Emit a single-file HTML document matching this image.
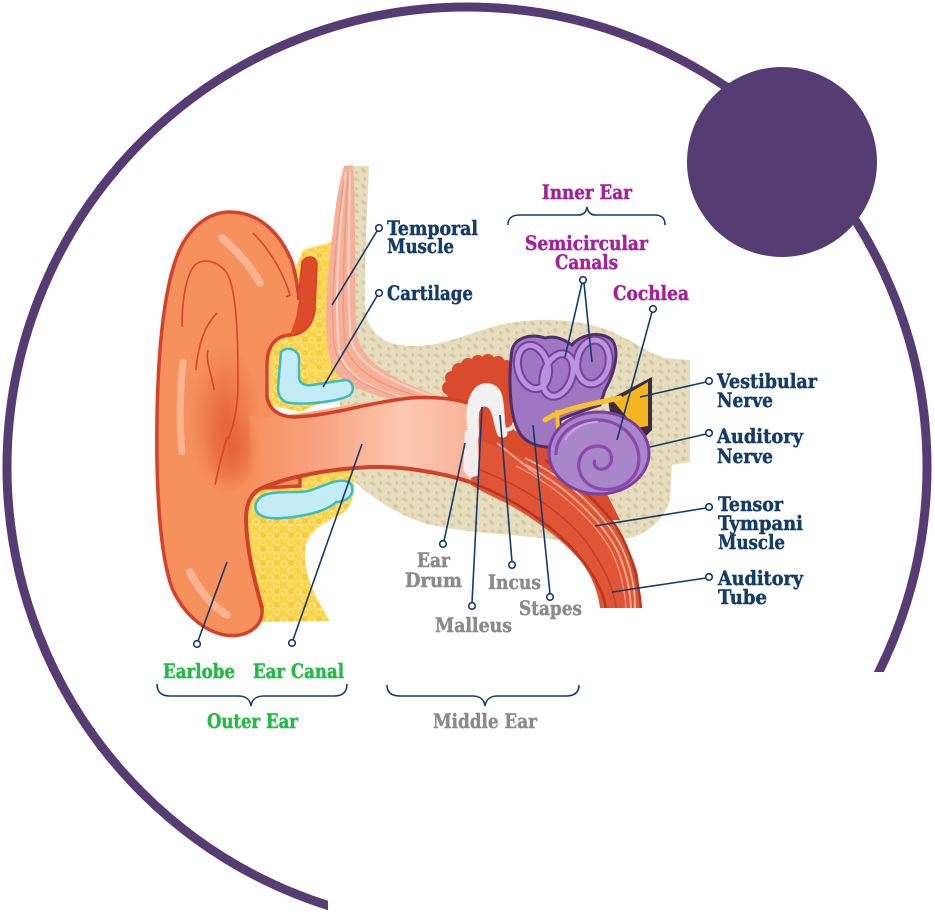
<!DOCTYPE html>
<html><head><meta charset="utf-8">
<style>
html,body{margin:0;padding:0;background:#fff;}
svg{display:block;}
text{font-family:"DejaVu Serif","Liberation Serif",serif;font-weight:bold;font-size:19.5px;stroke-width:0.45px;}
.nv{fill:#143c6b;stroke:#143c6b;} .mg{fill:#a3229a;stroke:#a3229a;} .gr{fill:#8b8b8b;stroke:#8b8b8b;} .gn{fill:#22bb45;stroke:#22bb45;}
.ld{stroke:#143c6b;stroke-width:1.6;fill:none;}
.dot{stroke:#143c6b;stroke-width:1.6;fill:#fff;}
</style></head>
<body>
<svg width="935" height="914" viewBox="0 0 935 914" xmlns="http://www.w3.org/2000/svg">
<defs>
<pattern id="bone" width="16" height="16" patternUnits="userSpaceOnUse">
<rect width="16" height="16" fill="#e6ddbf"/>
<path d="M1,3 q4,-3 6,1 q-2,4 -6,-1z M9,9 q5,-2 5,3 q-3,3 -5,-3z M3,11 q3,0 3,3 q-3,1 -3,-3z M12,1 q3,1 1,4 q-2,0 -1,-4z" fill="#d5c8a1"/>
</pattern>
<pattern id="fat" width="14" height="14" patternUnits="userSpaceOnUse">
<rect width="14" height="14" fill="#fcd246"/>
<circle cx="4" cy="4" r="3" fill="none" stroke="#fde68e" stroke-width="1.4"/>
<circle cx="11" cy="10" r="3.2" fill="none" stroke="#fde68e" stroke-width="1.4"/>
<circle cx="11" cy="3" r="1.6" fill="none" stroke="#f6c12c" stroke-width="1"/>
</pattern>
<linearGradient id="canal" x1="250" y1="0" x2="470" y2="0" gradientUnits="userSpaceOnUse">
<stop offset="0" stop-color="#f6905d"/>
<stop offset="0.35" stop-color="#f9a684"/>
<stop offset="0.7" stop-color="#fdc8b1"/>
<stop offset="1" stop-color="#f9b398"/>
</linearGradient>
<radialGradient id="concha" cx="0.5" cy="0.5" r="0.5">
<stop offset="0" stop-color="#e45f37" stop-opacity="0.85"/>
<stop offset="1" stop-color="#e45f37" stop-opacity="0"/>
</radialGradient>
</defs>

<rect width="935" height="914" fill="#fff"/>
<circle cx="467" cy="467" r="460" fill="none" stroke="#553d73" stroke-width="9"/>
<rect x="328" y="672" width="607" height="242" fill="#fff"/>
<circle cx="782" cy="162" r="95" fill="#553d73"/>

<!-- bone -->
<path d="M346,166 L369,166 C367,220 364,270 365,305 C367,335 385,346 415,346 C445,346 470,332 500,325 C530,318 565,318 595,326 C625,334 645,352 665,358 L690,360 L690,462 L672,465 L670,500 C664,520 648,533 630,538 L560,540 C500,533 445,532 415,520 C385,508 362,490 348,475 L340,470 L340,380 Z" fill="url(#bone)"/>

<!-- fat -->
<path d="M303,250 L338,240 L340,395 L300,412 L270,405 L268,335 Z" fill="url(#fat)"/>
<path d="M255,482 L352,470 C358,490 352,508 340,515 C325,522 310,530 306,545 C302,565 310,590 330,621 L262,622 C255,590 248,550 248,515 Z" fill="url(#fat)"/>

<!-- muscle -->
<path d="M344,166 L353,165 C357,220 353,290 357,335 C362,362 395,382 445,398 L420,404 C385,400 350,390 335,372 C322,350 325,290 333,230 C336,200 340,180 344,166 Z" fill="#f6b099"/>
<path d="M346,172 C339,230 334,300 339,350 C345,375 370,390 410,399" stroke="#fcd4c4" stroke-width="2" fill="none"/>
<path d="M348,172 C345,230 341,300 345,345 C352,370 380,386 425,398" stroke="#ee9a80" stroke-width="1.5" fill="none"/>
<path d="M350,172 C349,230 347,300 351,340 C357,365 390,382 435,397" stroke="#fcd4c4" stroke-width="2" fill="none"/>
<path d="M344,180 C336,240 330,300 334,345 C340,372 360,385 395,396" stroke="#ee9a80" stroke-width="1.5" fill="none"/>

<!-- cartilage -->
<path d="M281,352 C287,346 298,349 299,358 L299,378 C300,384 305,386 312,385 L345,380 C353,380 355,390 350,395 C340,401 310,405 290,403 C282,402 278,396 278,388 Z" fill="#c4ecf6" stroke="#3bbcc0" stroke-width="2.5"/>
<path d="M258,500 C262,492 280,492 300,492 C310,492 318,487 325,485 C340,478 352,480 352,488 C354,496 345,502 336,502 C330,508 320,512 305,515 C290,518 270,520 262,516 C254,512 254,505 258,500 Z" fill="#c4ecf6" stroke="#3bbcc0" stroke-width="2.5"/>

<!-- middle ear cavity -->
<path d="M447,395 L455,368 L480,360 L505,363 L522,378 L545,400 L570,440 L600,480 L620,520 L590,520 L520,490 L470,470 Z" fill="#da4a2c"/>
<g fill="#da4a2c">
<circle cx="449" cy="388" r="7"/><circle cx="452" cy="378" r="7"/><circle cx="459" cy="370" r="7"/>
<circle cx="468" cy="365" r="7"/><circle cx="478" cy="362" r="7"/><circle cx="488" cy="361" r="7"/>
<circle cx="498" cy="363" r="7"/><circle cx="507" cy="367" r="7"/><circle cx="514" cy="373" r="7"/>
</g>

<!-- tube -->
<path d="M480,440 C520,455 560,475 590,500 C615,522 632,550 638,575 L641,608 L600,608 C598,590 590,572 578,558 C560,538 530,515 500,500 C485,493 475,488 470,484 Z" fill="#e05535"/>
<path d="M520,462 C560,482 598,515 617,550 C627,572 630,590 631,608" stroke="#f7a98c" stroke-width="2" fill="none"/>
<path d="M525,458 C566,478 604,512 622,548 C632,570 635,590 635,608" stroke="#fbc6b0" stroke-width="1.5" fill="none"/>
<path d="M516,466 C556,486 593,518 612,552 C622,574 625,592 626,608" stroke="#f39277" stroke-width="1.5" fill="none"/>
<path d="M480,470 C520,485 560,510 585,540 C603,565 614,588 616,608" stroke="#c2402a" stroke-width="1.5" fill="none"/>
<path d="M470,482 C510,497 545,520 572,548 C592,570 603,590 606,608" stroke="#b8361f" stroke-width="2.5" fill="none"/>
<path d="M545,460 C575,480 600,505 615,525 C630,548 638,575 641,608" stroke="#b8361f" stroke-width="2.5" fill="none"/>
<path d="M497,443 C512,455 528,468 540,477" stroke="#f2a08a" stroke-width="2" fill="none"/>

<!-- pinna -->
<path d="M230,212 C258,212 280,232 292,262 C296,275 298,290 299,300 L303,262 C308,256 315,257 316,264 L314,310 C312,326 303,334 290,335 C276,336 268,345 267,362 L267,395 C268,410 280,417 295,417 L300,417 L300,486 L262,488 C250,493 246,505 246,520 C247,555 256,585 262,608 C264,628 245,638 225,635 C203,631 183,613 172,588 C160,555 156,490 157,420 C158,340 166,275 182,245 C193,225 210,212 230,212 Z" fill="#f6905d" stroke="#d4422a" stroke-width="3.5"/>
<path d="M299,300 L303,262 C308,256 315,257 316,264 L314,310 C312,326 303,334 290,335 L296,318 Z" fill="#dd4b2b"/>
<ellipse cx="225" cy="420" rx="35" ry="75" fill="url(#concha)"/>

<!-- canal -->
<path d="M250,416 C280,419 320,410 360,403 C400,397 440,397 470,404 L470,482 C440,472 400,466 370,467 C330,469 290,476 252,489 Z" fill="url(#canal)"/>
<ellipse cx="232" cy="450" rx="28" ry="42" fill="url(#concha)"/>
<path d="M267,395 C268,410 280,417 295,417 C330,416 370,402 410,398 C440,396 460,400 470,404" stroke="#cf4128" stroke-width="3.5" fill="none"/>
<path d="M470,482 C440,472 400,466 370,467 C330,469 290,476 262,488 C250,493 246,505 246,520 C247,555 256,585 262,608" stroke="#cf4128" stroke-width="4" fill="none"/>

<!-- ear inner lines & highlights -->
<g stroke="#d9452a" stroke-width="1.6" fill="none">
<path d="M182,327 C182,300 186,275 195,265 C205,257 220,262 228,275 C236,292 238,330 238,383 C238,405 234,425 228,440"/>
<path d="M253,233 C270,250 283,272 290,295 L286,297"/>
<path d="M217,313 C205,325 198,345 196,370"/>
<path d="M208,350 C205,360 212,375 214,390"/>
<path d="M227,437 C222,455 218,470 215,485"/>
</g>
<g stroke="#fbb695" stroke-linecap="round" fill="none" opacity="0.9">
<path d="M222,238 C238,252 252,268 260,283" stroke-width="8"/>
<path d="M183,362 C180,390 179,420 182,452" stroke-width="7"/>
<path d="M190,572 C200,592 212,606 227,615" stroke-width="8"/>
</g>

<!-- ossicles -->
<path d="M465,430 L478,430 L479,475 L470,478 L463,470 Z" fill="#f3ecec"/>
<path d="M468,432 C465,415 466,398 475,388 C483,380 496,382 501,392 C505,402 504,418 506,428 C510,436 505,440 498,436 C494,428 494,418 490,410 C486,404 480,406 479,414 C478,424 480,432 478,440 Z" fill="#f2f0f0"/>
<path d="M503,428 C508,432 512,428 515,424" stroke="#f2f0f0" stroke-width="4" fill="none"/>
<ellipse cx="523" cy="425" rx="9" ry="6" fill="none" stroke="#f1dcae" stroke-width="4"/>

<!-- inner ear purple -->
<path d="M512,350 C515,338 530,333 545,338 C555,335 565,340 572,345 C580,335 600,330 612,340 C620,350 615,372 605,390 L600,405 C585,410 570,415 560,420 L560,445 C545,450 525,445 518,430 C510,415 508,380 512,350 Z" fill="#9f76c1" stroke="#4e2f6a" stroke-width="3"/>
<g fill="none">
<ellipse cx="533" cy="367" rx="15" ry="22" transform="rotate(-15 533 367)" stroke="#7a3fa2" stroke-width="9"/>
<ellipse cx="558" cy="375" rx="14" ry="22" transform="rotate(20 558 375)" stroke="#7a3fa2" stroke-width="9"/>
<ellipse cx="593" cy="362" rx="16" ry="22" transform="rotate(10 593 362)" stroke="#7a3fa2" stroke-width="9"/>
<ellipse cx="533" cy="367" rx="15" ry="22" transform="rotate(-15 533 367)" stroke="#b894d8" stroke-width="5"/>
<ellipse cx="558" cy="375" rx="14" ry="22" transform="rotate(20 558 375)" stroke="#b894d8" stroke-width="5"/>
<ellipse cx="593" cy="362" rx="16" ry="22" transform="rotate(10 593 362)" stroke="#b894d8" stroke-width="5"/>
</g>
<path d="M608,400 L652,377 L652,430 L640,442 L612,425 Z" fill="#3d2b3f"/>
<path d="M614,402 L648,382 L648,426 L636,428 Z" fill="#f6b51e"/>
<path d="M545,420 C560,410 585,405 620,398" stroke="#f7c22b" stroke-width="5" fill="none" stroke-linecap="round"/>
<path d="M557,412 L558,428" stroke="#f7c22b" stroke-width="4" fill="none" stroke-linecap="round"/>
<ellipse cx="599" cy="453" rx="50" ry="41" fill="#a985c9" stroke="#7d3f9f" stroke-width="3"/>
<path d="M556,455 C556,428 585,416 607,421 C632,427 645,452 636,472 C626,492 596,495 584,480 C573,466 580,446 598,446 C612,446 616,462 606,468 C599,472 592,466 595,460" stroke="#8c48ab" stroke-width="3.2" fill="none"/>
<path d="M565,440 C572,428 585,422 598,422" stroke="#c6a6e0" stroke-width="2" fill="none"/>

<!-- leaders -->
<g class="ld">
<line x1="377" y1="231" x2="332" y2="305"/>
<line x1="377" y1="296" x2="323" y2="387"/>
<line x1="582" y1="283" x2="565" y2="357"/>
<line x1="584" y1="283" x2="592" y2="362"/>
<line x1="652" y1="312" x2="617" y2="440"/>
<line x1="706" y1="382" x2="640" y2="397"/>
<line x1="706" y1="434" x2="650" y2="447"/>
<line x1="706" y1="508" x2="595" y2="526"/>
<line x1="706" y1="578" x2="612" y2="592"/>
<line x1="444" y1="541" x2="465" y2="443"/>
<line x1="472" y1="603" x2="482" y2="407"/>
<line x1="512" y1="562" x2="500" y2="415"/>
<line x1="550" y1="594" x2="533" y2="425"/>
<line x1="198" y1="641" x2="227" y2="562"/>
<line x1="293" y1="640" x2="362" y2="444"/>
<path d="M508,225 C508,218 512,215 520,215 L578,215 C584,215 586,212 587,207 C588,212 590,215 596,215 L654,215 C662,215 665,218 665,225"/>
<path d="M157,684 C157,692 161,696 170,696 L238,696 C246,696 250,699 251,706 C252,699 256,696 264,696 L334,696 C343,696 347,692 347,684"/>
<path d="M387,685 C387,692 391,696 400,696 L472,696 C480,696 484,699 485,706 C486,699 490,696 498,696 L566,696 C575,696 579,692 579,685"/>
</g>
<g class="dot">
<circle cx="379" cy="228" r="3.3"/><circle cx="379" cy="293" r="3.3"/>
<circle cx="583" cy="280" r="3.3"/><circle cx="653" cy="309" r="3.3"/>
<circle cx="709" cy="381" r="3.3"/><circle cx="709" cy="433" r="3.3"/>
<circle cx="709" cy="507" r="3.3"/><circle cx="709" cy="577" r="3.3"/>
<circle cx="443" cy="544" r="3.3"/><circle cx="472" cy="606" r="3.3"/>
<circle cx="512" cy="565" r="3.3"/><circle cx="550" cy="597" r="3.3"/>
<circle cx="197" cy="644" r="3.3"/><circle cx="292" cy="643" r="3.3"/>
</g>

<!-- labels -->
<g class="nv">
<text x="387" y="235" textLength="91" lengthAdjust="spacingAndGlyphs">Temporal</text>
<text x="387" y="253" textLength="67" lengthAdjust="spacingAndGlyphs">Muscle</text>
<text x="387" y="300" textLength="86" lengthAdjust="spacingAndGlyphs">Cartilage</text>
<text x="717" y="388" textLength="100" lengthAdjust="spacingAndGlyphs">Vestibular</text>
<text x="717" y="407" textLength="56" lengthAdjust="spacingAndGlyphs">Nerve</text>
<text x="717" y="443" textLength="86" lengthAdjust="spacingAndGlyphs">Auditory</text>
<text x="717" y="463" textLength="56" lengthAdjust="spacingAndGlyphs">Nerve</text>
<text x="718" y="511" textLength="65" lengthAdjust="spacingAndGlyphs">Tensor</text>
<text x="718" y="530" textLength="85" lengthAdjust="spacingAndGlyphs">Tympani</text>
<text x="718" y="549" textLength="67" lengthAdjust="spacingAndGlyphs">Muscle</text>
<text x="718" y="585" textLength="85" lengthAdjust="spacingAndGlyphs">Auditory</text>
<text x="718" y="604" textLength="49" lengthAdjust="spacingAndGlyphs">Tube</text>
</g>
<g class="mg">
<text x="542" y="199" textLength="90" lengthAdjust="spacingAndGlyphs">Inner Ear</text>
<text x="525" y="250" textLength="123" lengthAdjust="spacingAndGlyphs">Semicircular</text>
<text x="555" y="269" textLength="63" lengthAdjust="spacingAndGlyphs">Canals</text>
<text x="613" y="300" textLength="76" lengthAdjust="spacingAndGlyphs">Cochlea</text>
</g>
<g class="gr">
<text x="417" y="567" textLength="33" lengthAdjust="spacingAndGlyphs">Ear</text>
<text x="405" y="587" textLength="57" lengthAdjust="spacingAndGlyphs">Drum</text>
<text x="435" y="632" textLength="77" lengthAdjust="spacingAndGlyphs">Malleus</text>
<text x="488" y="589" textLength="53" lengthAdjust="spacingAndGlyphs">Incus</text>
<text x="519" y="615" textLength="63" lengthAdjust="spacingAndGlyphs">Stapes</text>
<text x="433" y="728" textLength="104" lengthAdjust="spacingAndGlyphs">Middle Ear</text>
</g>
<g class="gn">
<text x="163" y="678" textLength="72" lengthAdjust="spacingAndGlyphs">Earlobe</text>
<text x="253" y="678" textLength="91" lengthAdjust="spacingAndGlyphs">Ear Canal</text>
<text x="207" y="728" textLength="91" lengthAdjust="spacingAndGlyphs">Outer Ear</text>
</g>
</svg>
</body></html>
